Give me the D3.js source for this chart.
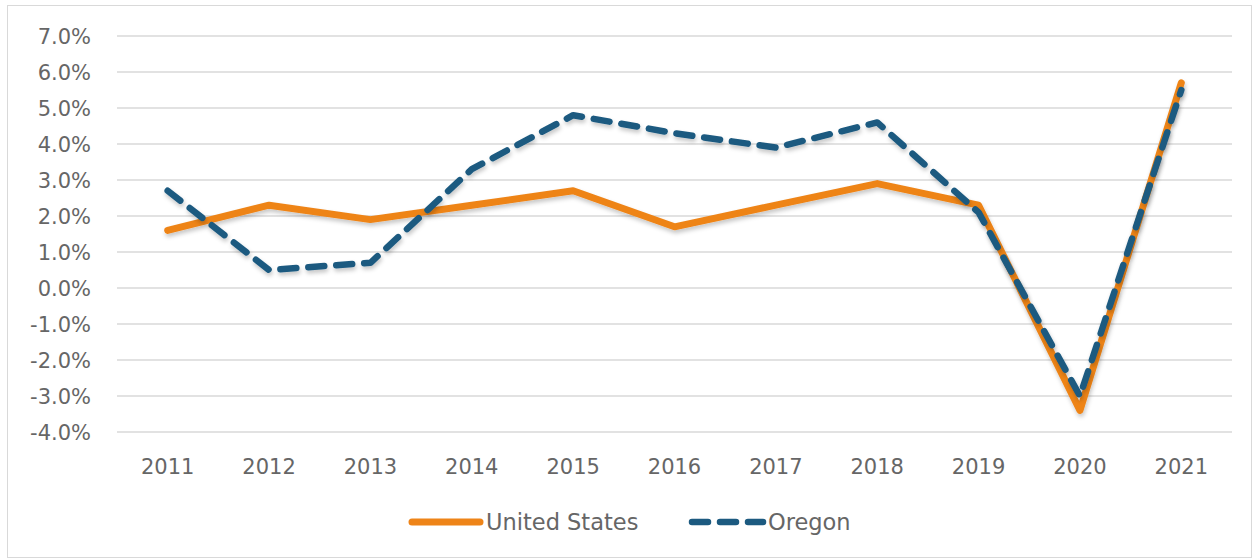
<!DOCTYPE html>
<html lang="en"><head>
<meta charset="utf-8">
<title>US vs Oregon</title>
<script src="https://cdn.jsdelivr.net/npm/d3@7"></script>
<style>
  body { margin: 0; background: #fff; }
  text { font-family: "Century Gothic", "DejaVu Sans", sans-serif; fill: #666; }
</style>
</head>
<body>
<script>
// data
var years = ["2011","2012","2013","2014","2015","2016","2017","2018","2019","2020","2021"];
var usValues = [1.6, 2.3, 1.9, 2.3, 2.7, 1.7, 2.3, 2.9, 2.3, -3.4, 5.7];
var oregonValues = [2.7, 0.5, 0.7, 3.3, 4.8, 4.3, 3.9, 4.6, 2.1, -3.0, 5.5];
var yTicks = [7, 6, 5, 4, 3, 2, 1, 0, -1, -2, -3, -4];
var seriesNames = ["United States", "Oregon"];

var width = 1258, height = 560;
var plotLeft = 117, plotRight = 1232, plotTop = 36, plotBottom = 432;

var svg = d3.select("body").append("svg")
  .attr("width", width)
  .attr("height", height);

// soft drop shadow like the original
var defs = svg.append("defs");
var f = defs.append("filter").attr("id", "shadow")
  .attr("x", "-10%").attr("y", "-10%").attr("width", "120%").attr("height", "130%");
f.append("feDropShadow").attr("dx", 1).attr("dy", 3).attr("stdDeviation", 2)
  .attr("flood-color", "#000").attr("flood-opacity", 0.22);

// outer frame
svg.append("rect")
  .attr("x", 7.5).attr("y", 5.5)
  .attr("width", width - 14).attr("height", height - 8)
  .attr("fill", "none").attr("stroke", "#d9d9d9");

var x = d3.scaleBand().domain(years).range([plotLeft, plotRight]);
var y = d3.scaleLinear().domain([-4, 7]).range([plotBottom, plotTop]);

// gridlines
svg.append("g").selectAll("line")
  .data(yTicks).enter().append("line")
  .attr("x1", plotLeft).attr("x2", plotRight)
  .attr("y1", function(d) { return y(d); })
  .attr("y2", function(d) { return y(d); })
  .attr("stroke", "#d9d9d9").attr("stroke-width", 1.5);

// y labels
svg.append("g").selectAll("text")
  .data(yTicks).enter().append("text")
  .attr("x", 91).attr("y", function(d) { return y(d); })
  .attr("dy", "0.36em")
  .attr("text-anchor", "end")
  .attr("font-size", 21)
  .text(function(d) { return d.toFixed(1) + "%"; });

// x labels
svg.append("g").selectAll("text")
  .data(years).enter().append("text")
  .attr("x", function(d) { return x(d) + x.bandwidth() / 2; })
  .attr("y", 474)
  .attr("text-anchor", "middle")
  .attr("font-size", 21)
  .text(function(d) { return d; });

var line = d3.line()
  .x(function(d, i) { return x(years[i]) + x.bandwidth() / 2; })
  .y(function(d) { return y(d); });

svg.append("path")
  .datum(usValues)
  .attr("d", line)
  .attr("fill", "none")
  .attr("stroke", "#ee8418")
  .attr("stroke-width", 7)
  .attr("stroke-linejoin", "round")
  .attr("stroke-linecap", "round")
  .attr("filter", "url(#shadow)");

svg.append("path")
  .datum(oregonValues)
  .attr("d", line)
  .attr("fill", "none")
  .attr("stroke", "#1c5a80")
  .attr("stroke-width", 6.5)
  .attr("stroke-dasharray", "16,12")
  .attr("stroke-linejoin", "round")
  .attr("stroke-linecap", "round")
  .attr("filter", "url(#shadow)");

// legend
var legend = svg.append("g");
legend.append("line")
  .attr("x1", 412).attr("x2", 480).attr("y1", 522).attr("y2", 522)
  .attr("stroke", "#ee8418").attr("stroke-width", 7).attr("stroke-linecap", "round");
legend.append("text")
  .attr("x", 486).attr("y", 522).attr("dy", "0.36em")
  .attr("font-size", 22.5)
  .text(seriesNames[0]);
legend.append("line")
  .attr("x1", 692).attr("x2", 763).attr("y1", 522).attr("y2", 522)
  .attr("stroke", "#1c5a80").attr("stroke-width", 6.5).attr("stroke-linecap", "round")
  .attr("stroke-dasharray", "16,12");
legend.append("text")
  .attr("x", 768).attr("y", 522).attr("dy", "0.36em")
  .attr("font-size", 22.5)
  .text(seriesNames[1]);
</script>
</body></html>
